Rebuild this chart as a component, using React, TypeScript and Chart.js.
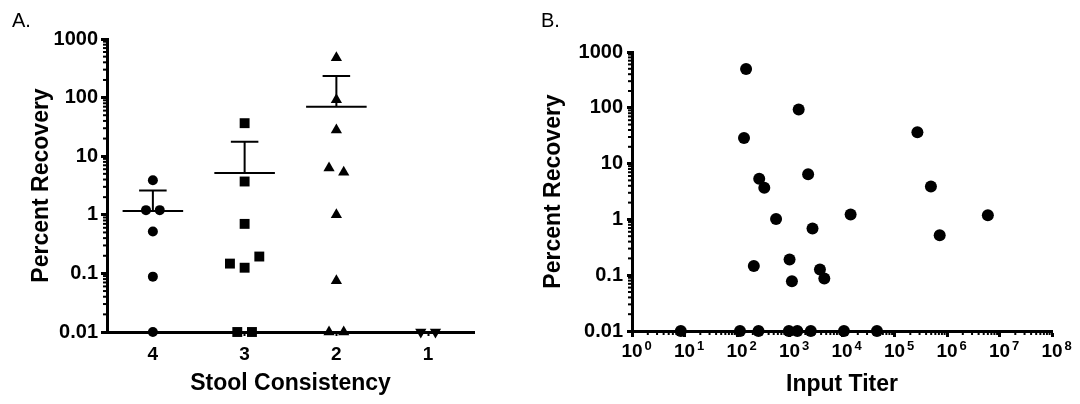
import React, { useEffect, useRef } from 'react';
import { Chart, registerables } from 'chart.js';

Chart.register(...registerables);

// ---------- Panel A data ----------
const stoolCategories = ['4', '3', '2', '1'];
const recoveryTickLabels = ['0.01', '0.1', '1', '10', '100', '1000'];

const group4Recovery = [3.9, 1.2, 1.2, 0.52, 0.088, 0.01];
const group4Jitter = [0, -0.075, 0.075, 0, 0, 0];
const group3Recovery = [36.6, 3.7, 0.7, 0.147, 0.125, 0.194, 0.01, 0.01];
const group3Jitter = [0, 0, 0, -0.16, 0, 0.16, -0.08, 0.08];
const group2Recovery = [480, 92, 28, 6.3, 5.3, 1.0, 0.075, 0.01, 0.01];
const group2Jitter = [0, 0, 0, -0.08, 0.08, 0, 0, -0.08, 0.08];
const group1Recovery = [0.01, 0.01];
const group1Jitter = [-0.08, 0.08];

const groupMeans = [1.16, 5.15, 70];
const groupSemTop = [2.6, 17.6, 233];

// ---------- Panel B data ----------
const titerTickBase = '10';
const titerTickExponents = ['0', '1', '2', '3', '4', '5', '6', '7', '8'];
const inputTiter = [
  149, 1496, 136, 273000, 265, 331, 2264, 494000, 555, 14600, 6000000, 2743, 726000,
  209, 1003, 1112, 3800, 4605,
  8.5, 114, 257, 973, 1409, 2547, 10900, 46300,
];
const titerRecovery = [
  494, 93, 28.8, 36.4, 5.35, 3.68, 6.47, 3.89, 1.02, 1.22, 1.19, 0.69, 0.52,
  0.146, 0.192, 0.078, 0.127, 0.087,
  0.01, 0.01, 0.01, 0.01, 0.01, 0.01, 0.01, 0.01,
];

const FONT = "'Liberation Sans', Arial, sans-serif";
Chart.defaults.font.family = FONT;
Chart.defaults.color = '#000';

const TITLE_SIZE = 23;
const YTICK_SIZE = 20;
const XTICK_SIZE = 19;

const isPow10 = (v: number) => {
  if (!(v > 0)) return false;
  const l = Math.log10(v);
  return Math.abs(l - Math.round(l)) < 1e-6;
};

const logTicks = (minExp: number, maxExp: number) => {
  const t: { value: number }[] = [];
  for (let e = minExp; e < maxExp; e++) {
    for (let k = 1; k < 10; k++) t.push({ value: Number((k * Math.pow(10, e)).toPrecision(6)) });
  }
  t.push({ value: Math.pow(10, maxExp) });
  return t;
};

const minorTickPlugin = {
  id: 'minorTicks',
  afterDraw(chart: any, _args: any, opts: any) {
    const ctx = chart.ctx;
    const lens = (opts && opts.lengths) || {};
    Object.keys(lens).forEach((id) => {
      const s = chart.scales[id];
      if (!s) return;
      const len = lens[id];
      ctx.save();
      ctx.strokeStyle = '#000';
      ctx.lineWidth = 2;
      s.ticks.forEach((t: any) => {
        if (isPow10(t.value)) return;
        const p = s.getPixelForValue(t.value);
        ctx.beginPath();
        if (s.isHorizontal()) {
          ctx.moveTo(p, s.top);
          ctx.lineTo(p, s.top + len);
        } else {
          ctx.moveTo(s.right, p);
          ctx.lineTo(s.right - len, p);
        }
        ctx.stroke();
      });
      ctx.restore();
    });
  },
};

// draws the superscript exponent next to each "10" tick label
const exponentPlugin = {
  id: 'tickExponents',
  afterDraw(chart: any, _args: any, opts: any) {
    if (!opts || !opts.labels) return;
    const s = chart.scales[opts.axis];
    if (!s) return;
    const ctx = chart.ctx;
    ctx.save();
    ctx.font = `bold ${opts.baseSize}px ${FONT}`;
    const half = ctx.measureText(opts.base).width / 2;
    ctx.font = `bold ${opts.size}px ${FONT}`;
    ctx.fillStyle = '#000';
    ctx.textAlign = 'left';
    ctx.textBaseline = 'alphabetic';
    s.ticks.forEach((t: any) => {
      if (!isPow10(t.value)) return;
      const p = s.getPixelForValue(t.value);
      const e = Math.round(Math.log10(t.value));
      const txt = opts.labels[e];
      if (txt !== undefined) ctx.fillText(txt, p + half + 2, s.top + opts.baselineOffset);
    });
    ctx.restore();
  },
};

const majorTickColor = (c: any) => (c.tick && isPow10(c.tick.value) ? '#000' : 'rgba(0,0,0,0)');

const logYAxis = (width: number, tickLength: number, padding: number, titlePad: number) => ({
  type: 'logarithmic',
  min: 0.01,
  max: 1000,
  afterBuildTicks: (s: any) => {
    s.ticks = logTicks(-2, 3);
  },
  afterFit: (s: any) => {
    s.width = width;
  },
  ticks: {
    autoSkip: false,
    padding,
    font: { size: YTICK_SIZE, weight: 'bold' },
    color: '#000',
    callback: (v: number) => (isPow10(v) ? recoveryTickLabels[Math.round(Math.log10(v)) + 2] : ''),
  },
  grid: {
    display: true,
    drawOnChartArea: false,
    drawTicks: true,
    tickLength,
    tickWidth: 3,
    tickColor: majorTickColor,
  },
  border: { display: true, color: '#000', width: 3 },
  title: {
    display: true,
    text: 'Percent Recovery',
    font: { size: TITLE_SIZE, weight: 'bold' },
    color: '#000',
    padding: { top: titlePad, bottom: 0 },
  },
});

const pts = (idx: number, vals: number[], jit: number[]) =>
  vals.map((y, j) => ({ x: idx + jit[j], y }));

const meanSegments = () => {
  const d: { x: number; y: number | null }[] = [];
  groupMeans.forEach((m, i) => {
    d.push({ x: i - 0.33, y: m }, { x: i + 0.33, y: m }, { x: i, y: null });
    d.push({ x: i, y: m }, { x: i, y: groupSemTop[i] }, { x: i, y: null });
    d.push({ x: i - 0.15, y: groupSemTop[i] }, { x: i + 0.15, y: groupSemTop[i] }, { x: i, y: null });
  });
  return d;
};

const markerSet = (data: any[], style: string, radius: number, rotation = 0) => ({
  data,
  pointStyle: style,
  pointRadius: radius,
  pointHoverRadius: radius,
  pointRotation: rotation,
  backgroundColor: '#000',
  borderColor: '#000',
  borderWidth: 0,
  clip: false,
});

const configA = (): any => ({
  type: 'scatter',
  data: {
    datasets: [
      markerSet(pts(0, group4Recovery, group4Jitter), 'circle', 5),
      markerSet(pts(1, group3Recovery, group3Jitter), 'rect', 7),
      markerSet(pts(2, group2Recovery, group2Jitter), 'triangle', 6.5),
      markerSet(pts(3, group1Recovery, group1Jitter), 'triangle', 6.5, 180),
      {
        data: meanSegments(),
        showLine: true,
        spanGaps: false,
        pointRadius: 0,
        borderColor: '#000',
        borderWidth: 2,
        clip: false,
      },
    ],
  },
  options: {
    responsive: false,
    animation: false,
    layout: { padding: { top: 39, right: 66, left: 0, bottom: 0 } },
    plugins: {
      legend: { display: false },
      tooltip: { enabled: false },
      minorTicks: { lengths: { y: 4 } },
    },
    scales: {
      x: {
        type: 'linear',
        min: -0.5,
        max: 3.5,
        afterBuildTicks: (s: any) => {
          s.ticks = stoolCategories.map((_, i) => ({ value: i }));
        },
        afterFit: (s: any) => {
          s.height = 72;
        },
        ticks: {
          autoSkip: false,
          maxRotation: 0,
          padding: 7,
          font: { size: XTICK_SIZE, weight: 'bold' },
          color: '#000',
          callback: (v: number) => stoolCategories[v] ?? '',
        },
        grid: {
          display: true,
          drawOnChartArea: false,
          drawTicks: true,
          tickLength: 4,
          tickWidth: 2,
          tickColor: '#000',
        },
        border: { display: true, color: '#000', width: 3 },
        title: {
          display: true,
          text: 'Stool Consistency',
          font: { size: TITLE_SIZE, weight: 'bold' },
          color: '#000',
          padding: { top: 0, bottom: 7 },
        },
      },
      y: logYAxis(107, 6, 3, 28),
    },
  },
  plugins: [minorTickPlugin],
});

const configB = (): any => ({
  type: 'scatter',
  data: {
    datasets: [
      markerSet(
        inputTiter.map((x, i) => ({ x, y: titerRecovery[i] })),
        'circle',
        6
      ),
    ],
  },
  options: {
    responsive: false,
    animation: false,
    layout: { padding: { top: 52, right: 28, left: 0, bottom: 0 } },
    plugins: {
      legend: { display: false },
      tooltip: { enabled: false },
      minorTicks: { lengths: { x: 4, y: 4 } },
      tickExponents: {
        axis: 'x',
        labels: titerTickExponents,
        base: titerTickBase,
        baseSize: XTICK_SIZE,
        size: 13,
        baselineOffset: 19,
      },
    },
    scales: {
      x: {
        type: 'logarithmic',
        min: 1,
        max: 1e8,
        afterBuildTicks: (s: any) => {
          s.ticks = logTicks(0, 8);
        },
        afterFit: (s: any) => {
          s.height = 73;
        },
        ticks: {
          autoSkip: false,
          maxRotation: 0,
          minRotation: 0,
          padding: 3,
          font: { size: XTICK_SIZE, weight: 'bold' },
          color: '#000',
          callback: (v: number) => (isPow10(v) ? titerTickBase : ''),
        },
        grid: {
          display: true,
          drawOnChartArea: false,
          drawTicks: true,
          tickLength: 6,
          tickWidth: 3,
          tickColor: majorTickColor,
        },
        border: { display: true, color: '#000', width: 3 },
        title: {
          display: true,
          text: 'Input Titer',
          font: { size: TITLE_SIZE, weight: 'bold' },
          color: '#000',
          padding: { top: 0, bottom: 6 },
        },
      },
      y: logYAxis(92, 5, 4, 0),
    },
  },
  plugins: [minorTickPlugin, exponentPlugin],
});

export default function App() {
  const aRef = useRef<HTMLCanvasElement | null>(null);
  const bRef = useRef<HTMLCanvasElement | null>(null);

  useEffect(() => {
    const a = new Chart(aRef.current as HTMLCanvasElement, configA());
    const b = new Chart(bRef.current as HTMLCanvasElement, configB());
    return () => {
      a.destroy();
      b.destroy();
    };
  }, []);

  const panelLabel: React.CSSProperties = {
    position: 'absolute',
    top: 10,
    fontFamily: FONT,
    fontSize: 20,
    lineHeight: '20px',
    color: '#000',
  };

  return (
    <div style={{ position: 'fixed', left: 0, top: 0, width: 1080, height: 404, background: '#fff' }}>
      <canvas ref={aRef} width={540} height={404} style={{ position: 'absolute', left: 0, top: 0 }} />
      <canvas ref={bRef} width={540} height={404} style={{ position: 'absolute', left: 540, top: 0 }} />
      <div style={{ ...panelLabel, left: 12 }}>A.</div>
      <div style={{ ...panelLabel, left: 541 }}>B.</div>
    </div>
  );
}
